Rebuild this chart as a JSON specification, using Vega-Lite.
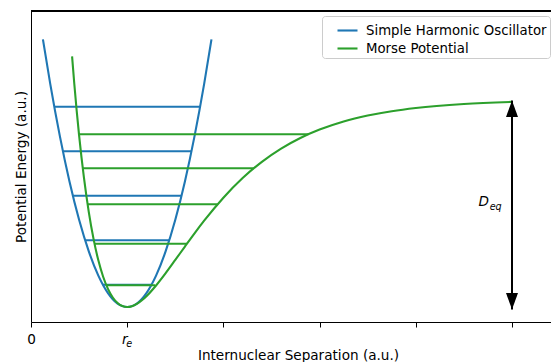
{
  "$schema": "https://vega.github.io/schema/vega-lite/v6.json",
  "width": 520,
  "height": 311,
  "autosize": "none",
  "padding": {"left": 31, "top": 11, "right": 0, "bottom": 40},
  "config": {
    "view": {"stroke": null},
    "font": "DejaVu Sans",
    "axis": {"grid": false, "domainColor": "#000000", "domainWidth": 1, "tickColor": "#000000", "labelColor": "#000000", "titleColor": "#000000", "titleFontWeight": "normal", "titleFont": "DejaVu Sans", "labelFont": "DejaVu Sans"}
  },
  "datasets": {
    "pts": [
      {"kind": "curve", "series": "Simple Harmonic Oscillator", "x": 0.124, "y": 6.013},
      {"kind": "curve", "series": "Simple Harmonic Oscillator", "x": 0.2, "y": 5.015},
      {"kind": "curve", "series": "Simple Harmonic Oscillator", "x": 0.3, "y": 3.84},
      {"kind": "curve", "series": "Simple Harmonic Oscillator", "x": 0.4, "y": 2.821},
      {"kind": "curve", "series": "Simple Harmonic Oscillator", "x": 0.5, "y": 1.959},
      {"kind": "curve", "series": "Simple Harmonic Oscillator", "x": 0.6, "y": 1.254},
      {"kind": "curve", "series": "Simple Harmonic Oscillator", "x": 0.7, "y": 0.705},
      {"kind": "curve", "series": "Simple Harmonic Oscillator", "x": 0.75, "y": 0.49},
      {"kind": "curve", "series": "Simple Harmonic Oscillator", "x": 0.8, "y": 0.313},
      {"kind": "curve", "series": "Simple Harmonic Oscillator", "x": 0.85, "y": 0.176},
      {"kind": "curve", "series": "Simple Harmonic Oscillator", "x": 0.9, "y": 0.078},
      {"kind": "curve", "series": "Simple Harmonic Oscillator", "x": 0.95, "y": 0.02},
      {"kind": "curve", "series": "Simple Harmonic Oscillator", "x": 1.0, "y": 0},
      {"kind": "curve", "series": "Simple Harmonic Oscillator", "x": 1.05, "y": 0.02},
      {"kind": "curve", "series": "Simple Harmonic Oscillator", "x": 1.1, "y": 0.078},
      {"kind": "curve", "series": "Simple Harmonic Oscillator", "x": 1.15, "y": 0.176},
      {"kind": "curve", "series": "Simple Harmonic Oscillator", "x": 1.2, "y": 0.313},
      {"kind": "curve", "series": "Simple Harmonic Oscillator", "x": 1.25, "y": 0.49},
      {"kind": "curve", "series": "Simple Harmonic Oscillator", "x": 1.3, "y": 0.705},
      {"kind": "curve", "series": "Simple Harmonic Oscillator", "x": 1.4, "y": 1.254},
      {"kind": "curve", "series": "Simple Harmonic Oscillator", "x": 1.5, "y": 1.959},
      {"kind": "curve", "series": "Simple Harmonic Oscillator", "x": 1.6, "y": 2.821},
      {"kind": "curve", "series": "Simple Harmonic Oscillator", "x": 1.7, "y": 3.84},
      {"kind": "curve", "series": "Simple Harmonic Oscillator", "x": 1.8, "y": 5.015},
      {"kind": "curve", "series": "Simple Harmonic Oscillator", "x": 1.876, "y": 6.013},
      {"kind": "level", "series": "Simple Harmonic Oscillator", "x": 0.747, "x2": 1.253, "y": 0.5},
      {"kind": "level", "series": "Simple Harmonic Oscillator", "x": 0.5625, "x2": 1.4375, "y": 1.5},
      {"kind": "level", "series": "Simple Harmonic Oscillator", "x": 0.435, "x2": 1.565, "y": 2.5},
      {"kind": "level", "series": "Simple Harmonic Oscillator", "x": 0.332, "x2": 1.668, "y": 3.5},
      {"kind": "level", "series": "Simple Harmonic Oscillator", "x": 0.242, "x2": 1.758, "y": 4.5},
      {"kind": "curve", "series": "Morse Potential", "x": 0.427, "y": 5.633},
      {"kind": "curve", "series": "Morse Potential", "x": 0.45, "y": 5.018},
      {"kind": "curve", "series": "Morse Potential", "x": 0.5, "y": 3.858},
      {"kind": "curve", "series": "Morse Potential", "x": 0.55, "y": 2.911},
      {"kind": "curve", "series": "Morse Potential", "x": 0.6, "y": 2.143},
      {"kind": "curve", "series": "Morse Potential", "x": 0.65, "y": 1.53},
      {"kind": "curve", "series": "Morse Potential", "x": 0.7, "y": 1.049},
      {"kind": "curve", "series": "Morse Potential", "x": 0.75, "y": 0.68},
      {"kind": "curve", "series": "Morse Potential", "x": 0.8, "y": 0.407},
      {"kind": "curve", "series": "Morse Potential", "x": 0.85, "y": 0.214},
      {"kind": "curve", "series": "Morse Potential", "x": 0.9, "y": 0.089},
      {"kind": "curve", "series": "Morse Potential", "x": 0.95, "y": 0.021},
      {"kind": "curve", "series": "Morse Potential", "x": 1.0, "y": 0},
      {"kind": "curve", "series": "Morse Potential", "x": 1.05, "y": 0.018},
      {"kind": "curve", "series": "Morse Potential", "x": 1.1, "y": 0.069},
      {"kind": "curve", "series": "Morse Potential", "x": 1.15, "y": 0.145},
      {"kind": "curve", "series": "Morse Potential", "x": 1.2, "y": 0.242},
      {"kind": "curve", "series": "Morse Potential", "x": 1.3, "y": 0.483},
      {"kind": "curve", "series": "Morse Potential", "x": 1.4, "y": 0.761},
      {"kind": "curve", "series": "Morse Potential", "x": 1.5, "y": 1.058},
      {"kind": "curve", "series": "Morse Potential", "x": 1.6, "y": 1.359},
      {"kind": "curve", "series": "Morse Potential", "x": 1.7, "y": 1.655},
      {"kind": "curve", "series": "Morse Potential", "x": 1.8, "y": 1.939},
      {"kind": "curve", "series": "Morse Potential", "x": 2.0, "y": 2.456},
      {"kind": "curve", "series": "Morse Potential", "x": 2.2, "y": 2.897},
      {"kind": "curve", "series": "Morse Potential", "x": 2.4, "y": 3.263},
      {"kind": "curve", "series": "Morse Potential", "x": 2.6, "y": 3.56},
      {"kind": "curve", "series": "Morse Potential", "x": 2.8, "y": 3.798},
      {"kind": "curve", "series": "Morse Potential", "x": 3.0, "y": 3.987},
      {"kind": "curve", "series": "Morse Potential", "x": 3.25, "y": 4.169},
      {"kind": "curve", "series": "Morse Potential", "x": 3.5, "y": 4.302},
      {"kind": "curve", "series": "Morse Potential", "x": 3.75, "y": 4.4},
      {"kind": "curve", "series": "Morse Potential", "x": 4.0, "y": 4.472},
      {"kind": "curve", "series": "Morse Potential", "x": 4.5, "y": 4.562},
      {"kind": "curve", "series": "Morse Potential", "x": 5.0, "y": 4.61},
      {"kind": "level", "series": "Morse Potential", "x": 0.783, "x2": 1.29, "y": 0.49},
      {"kind": "level", "series": "Morse Potential", "x": 0.66, "x2": 1.62, "y": 1.42},
      {"kind": "level", "series": "Morse Potential", "x": 0.588, "x2": 1.9405, "y": 2.31},
      {"kind": "level", "series": "Morse Potential", "x": 0.538, "x2": 2.316, "y": 3.119},
      {"kind": "level", "series": "Morse Potential", "x": 0.499, "x2": 2.8835, "y": 3.883},
      {"kind": "arrow", "x": 5.0, "y": -0.056, "y2": 4.64},
      {"kind": "headUp", "x": 5.0, "y": 4.64},
      {"kind": "headDown", "x": 5.0, "y": -0.056},
      {"kind": "labelMain", "x": 4.652, "y": 2.281, "text": "D"},
      {"kind": "labelSub", "x": 4.768, "y": 2.191, "text": "eq"},
      {"kind": "tickSub", "x": 1.0, "y": -0.337, "text": "e"}
    ]
  },
  "data": {"name": "pts"},
  "layer": [
    {
      "transform": [{"filter": "datum.kind == 'curve' && datum.series == 'Simple Harmonic Oscillator'"}],
      "mark": {"type": "line", "interpolate": "monotone", "strokeWidth": 2.1},
      "encoding": {
        "x": {"field": "x", "type": "quantitative",
          "scale": {"domain": [0, 5.4054], "nice": false, "zero": false},
          "axis": {"values": [0, 1, 2, 3, 4, 5], "labelExpr": "datum.value == 0 ? '0' : (datum.value == 1 ? 'r' : '')",
            "labelFontStyle": {"condition": {"test": "datum.value == 1", "value": "italic"}, "value": "normal"},
            "labelAlign": {"condition": {"test": "datum.value == 1", "value": "right"}, "value": "center"},
            "labelFlush": false, "labelFontSize": 13.6, "labelBaseline": "alphabetic", "labelPadding": 16, "tickSize": 5, "tickWidth": 1,
            "title": "Internuclear Separation (a.u.)", "titleFontSize": 13.6, "titleX": 267, "titleY": 37.5, "titleAlign": "center", "titleBaseline": "alphabetic"}},
        "y": {"field": "y", "type": "quantitative",
          "scale": {"domain": [-0.337, 6.652], "nice": false, "zero": false},
          "axis": {"ticks": false, "labels": false, "title": "Potential Energy (a.u.)", "titleFontSize": 13.6, "titlePadding": 3}},
        "color": {"field": "series", "type": "nominal",
          "scale": {"domain": ["Simple Harmonic Oscillator", "Morse Potential"], "range": ["#1f77b4", "#2ca02c"]},
          "legend": {"title": null, "orient": "none", "legendX": 291, "legendY": 5, "padding": 3, "strokeColor": "#cccccc", "fillColor": "#ffffff", "cornerRadius": 3,
            "symbolType": "stroke", "symbolSize": 400, "symbolStrokeWidth": 2.1, "symbolOffset": 11, "labelFontSize": 13.3, "labelOffset": 7, "labelLimit": 400, "rowPadding": 0, "labelColor": "#000000", "labelFont": "DejaVu Sans"}}
      }
    },
    {
      "transform": [{"filter": "datum.kind == 'level' && datum.series == 'Simple Harmonic Oscillator'"}],
      "mark": {"type": "rule", "strokeWidth": 2.1},
      "encoding": {
        "x": {"field": "x", "type": "quantitative"},
        "x2": {"field": "x2"},
        "y": {"field": "y", "type": "quantitative"},
        "color": {"field": "series", "type": "nominal"}
      }
    },
    {
      "transform": [{"filter": "datum.kind == 'curve' && datum.series == 'Morse Potential'"}],
      "mark": {"type": "line", "interpolate": "monotone", "strokeWidth": 2.1},
      "encoding": {
        "x": {"field": "x", "type": "quantitative"},
        "y": {"field": "y", "type": "quantitative"},
        "color": {"field": "series", "type": "nominal"}
      }
    },
    {
      "transform": [{"filter": "datum.kind == 'level' && datum.series == 'Morse Potential'"}],
      "mark": {"type": "rule", "strokeWidth": 2.1},
      "encoding": {
        "x": {"field": "x", "type": "quantitative"},
        "x2": {"field": "x2"},
        "y": {"field": "y", "type": "quantitative"},
        "color": {"field": "series", "type": "nominal"}
      }
    },
    {
      "mark": {"type": "rule", "color": "#000000", "strokeWidth": 1},
      "encoding": {"y": {"datum": 6.652}}
    },
    {
      "transform": [{"filter": "datum.kind == 'arrow'"}],
      "mark": {"type": "rule", "color": "#000000", "strokeWidth": 2},
      "encoding": {
        "x": {"field": "x", "type": "quantitative"},
        "y": {"field": "y", "type": "quantitative"},
        "y2": {"field": "y2"}
      }
    },
    {
      "transform": [{"filter": "datum.kind == 'headUp'"}],
      "mark": {"type": "point", "shape": "M0,0 L1,2.75 L-1,2.75 Z", "size": 144, "filled": true, "color": "#000000", "opacity": 1, "strokeWidth": 0},
      "encoding": {
        "x": {"field": "x", "type": "quantitative"},
        "y": {"field": "y", "type": "quantitative"}
      }
    },
    {
      "transform": [{"filter": "datum.kind == 'headDown'"}],
      "mark": {"type": "point", "shape": "M0,0 L1,-2.75 L-1,-2.75 Z", "size": 144, "filled": true, "color": "#000000", "opacity": 1, "strokeWidth": 0},
      "encoding": {
        "x": {"field": "x", "type": "quantitative"},
        "y": {"field": "y", "type": "quantitative"}
      }
    },
    {
      "transform": [{"filter": "datum.kind == 'labelMain'"}],
      "mark": {"type": "text", "fontStyle": "italic", "fontSize": 13.6, "align": "left", "baseline": "alphabetic", "color": "#000000", "font": "DejaVu Sans"},
      "encoding": {
        "x": {"field": "x", "type": "quantitative"},
        "y": {"field": "y", "type": "quantitative"},
        "text": {"field": "text"}
      }
    },
    {
      "transform": [{"filter": "datum.kind == 'labelSub'"}],
      "mark": {"type": "text", "fontStyle": "italic", "fontSize": 9.6, "align": "left", "baseline": "alphabetic", "color": "#000000", "font": "DejaVu Sans"},
      "encoding": {
        "x": {"field": "x", "type": "quantitative"},
        "y": {"field": "y", "type": "quantitative"},
        "text": {"field": "text"}
      }
    },
    {
      "transform": [{"filter": "datum.kind == 'tickSub'"}],
      "mark": {"type": "text", "fontStyle": "italic", "fontSize": 9.6, "align": "left", "baseline": "alphabetic", "dx": -1, "dy": 24.5, "color": "#000000", "font": "DejaVu Sans"},
      "encoding": {
        "x": {"field": "x", "type": "quantitative"},
        "y": {"field": "y", "type": "quantitative"},
        "text": {"field": "text"}
      }
    }
  ]
}
